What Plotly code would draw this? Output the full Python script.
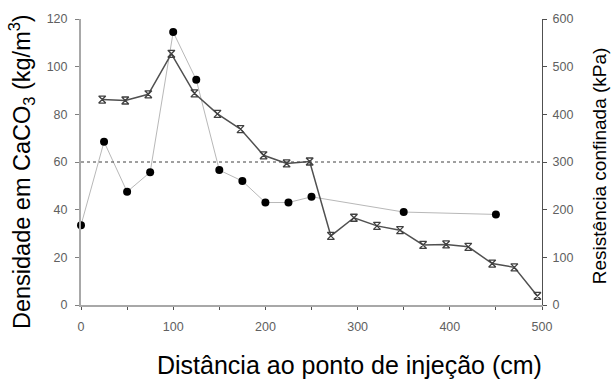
import plotly.graph_objects as go

# Density in CaCO3 (kg/m3) - left axis
dens_x = [0, 25, 50, 75, 100, 125, 150, 175, 200, 225, 250, 350, 450]
dens_y = [33.5, 68.5, 47.5, 55.7, 114.5, 94.5, 56.6, 52, 43, 43, 45.4, 39, 38]

# Confined resistance (kPa) - right axis
res_x = [23, 48, 73, 98, 123, 148, 173, 198, 223, 248, 271, 296, 321, 346, 371, 396, 420, 446, 470, 495]
res_y = [431, 429, 442, 527, 444, 401, 369, 314, 297, 301, 145, 183, 166, 157, 126, 127, 122, 87, 79, 19]

ref_density = 60

x_title = "Distância ao ponto de injeção (cm)"
y_title = "Densidade em CaCO<sub>3</sub> (kg/m<sup>3</sup>)"
y2_title = "Resistência confinada (kPa)"

fig = go.Figure()

fig.add_trace(go.Scatter(
    x=dens_x, y=dens_y, mode="lines+markers",
    line=dict(color="#b8b8b8", width=1),
    marker=dict(symbol="circle", size=8, color="black"),
    yaxis="y", showlegend=False, cliponaxis=False,
))
fig.add_trace(go.Scatter(
    x=res_x, y=res_y, mode="lines+markers",
    line=dict(color="#505050", width=1.5),
    marker=dict(symbol="hourglass-open", size=7, color="#404040", line=dict(width=1.3, color="#404040")),
    yaxis="y2", showlegend=False, cliponaxis=False,
))

fig.add_shape(type="line", xref="x", yref="y", x0=0, x1=500, y0=ref_density, y1=ref_density,
              line=dict(color="#404040", width=1, dash="dot"))

tickfont = dict(family="Liberation Sans, Arial", size=12.5, color="#606060")

fig.update_layout(
    width=614, height=381,
    margin=dict(l=81, r=72, t=19, b=76),
    paper_bgcolor="white", plot_bgcolor="white",
    xaxis=dict(range=[0, 500], dtick=100, tick0=0, showgrid=False, zeroline=False,
               showline=True, linecolor="#a8a8a8", linewidth=2,
               ticks="outside", ticklen=3, tickcolor="#505050", tickwidth=1,
               minor=dict(dtick=50, ticks="outside", ticklen=3, tickcolor="#505050", tickwidth=1),
               ticklabelstandoff=6, tickfont=tickfont),
    yaxis=dict(range=[0, 120], dtick=20, showgrid=False, zeroline=False,
               showline=True, linecolor="#a8a8a8", linewidth=2,
               ticks="outside", ticklen=4, tickcolor="#808080", tickwidth=1,
               ticklabelstandoff=5, tickfont=tickfont),
    yaxis2=dict(range=[0, 600], dtick=100, overlaying="y", side="right", anchor="x",
                showgrid=False, zeroline=False,
                showline=True, linecolor="#505050", linewidth=1,
                ticks="outside", ticklen=4, tickcolor="#505050", tickwidth=1,
                ticklabelstandoff=3, tickfont=tickfont),
    annotations=[
        dict(text=x_title, xref="paper", yref="paper", x=0.582, y=-0.21,
             xanchor="center", yanchor="middle", showarrow=False,
             font=dict(family="Liberation Sans, Arial", size=25, color="black")),
        dict(text=y_title, xref="paper", yref="paper", x=-0.13, y=0.465, textangle=-90,
             xanchor="center", yanchor="middle", showarrow=False,
             font=dict(family="Liberation Sans, Arial", size=23.5, color="black")),
        dict(text=y2_title, xref="paper", yref="paper", x=1.124, y=0.486, textangle=-90,
             xanchor="center", yanchor="middle", showarrow=False,
             font=dict(family="Liberation Sans, Arial", size=19, color="black")),
    ],
)

fig.write_html("out.html")
